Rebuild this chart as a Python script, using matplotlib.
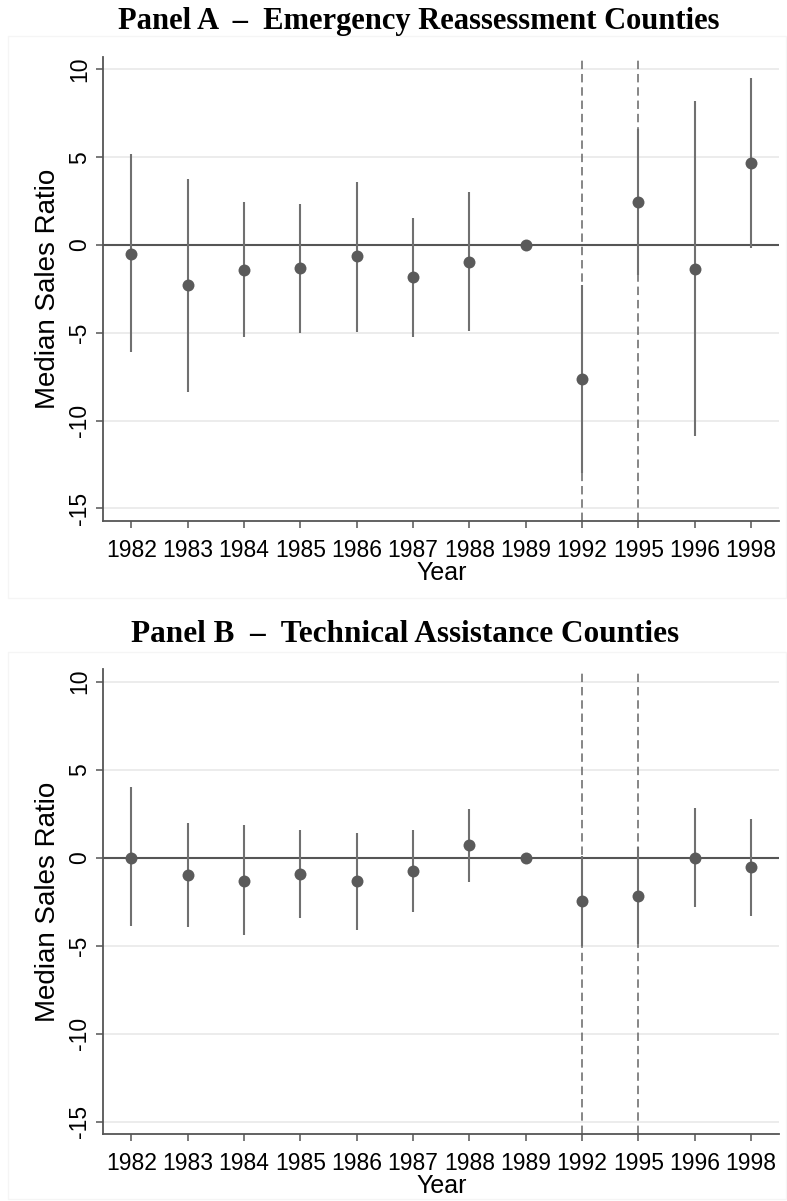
import matplotlib
matplotlib.use("Agg")
import matplotlib.pyplot as plt
from matplotlib.patches import Rectangle

years = ["1982", "1983", "1984", "1985", "1986", "1987", "1988", "1989",
         "1992", "1995", "1996", "1998"]
event_years = ["1992", "1995"]

a_coef = [-0.5, -2.3, -1.4, -1.3, -0.65, -1.8, -0.95, 0.0, -7.65, 2.45, -1.35, 4.65]
a_lo = [-6.1, -8.4, -5.25, -5.0, -4.95, -5.25, -4.9, 0.0, -13.0, -1.7, -10.9, -0.2]
a_hi = [5.2, 3.75, 2.45, 2.35, 3.6, 1.55, 3.0, 0.0, -2.3, 6.6, 8.2, 9.5]

b_coef = [0.0, -1.0, -1.3, -0.9, -1.35, -0.75, 0.7, 0.0, -2.45, -2.15, 0.0, -0.55]
b_lo = [-3.9, -3.95, -4.4, -3.4, -4.1, -3.1, -1.4, 0.0, -5.0, -4.9, -2.8, -3.3]
b_hi = [4.0, 1.95, 1.85, 1.6, 1.4, 1.6, 2.75, 0.0, 0.1, 0.6, 2.8, 2.2]

yticks = [-15, -10, -5, 0, 5, 10]
titles = ["Panel A  \u2013  Emergency Reassessment Counties",
          "Panel B  \u2013  Technical Assistance Counties"]
ylabel = "Median Sales Ratio"
xlabel = "Year"

plt.rcParams['font.family'] = ['Liberation Sans', 'DejaVu Sans']

W, H = 787, 1201
fig = plt.figure(figsize=(W / 100, H / 100), dpi=100)
fig.patch.set_facecolor("white")

# faint graph-region frames
for (y0, y1) in [(36, 598), (652, 1199)]:
    fig.patches.append(Rectangle((8 / W, 1 - y1 / H), (W - 9) / W, (y1 - y0) / H,
                                 transform=fig.transFigure, fill=False,
                                 edgecolor="#f5f5f5", lw=1.0))

axA = fig.add_axes([103.3 / W, 1 - 521 / H, (779.3 - 103.3) / W, (521 - 56.7) / H])
axB = fig.add_axes([103.3 / W, 1 - 1134.4 / H, (779.3 - 103.3) / W, (1134.4 - 669) / H])

gray = "#5a5a5a"
for ax, coef, lo, hi in [(axA, a_coef, a_lo, a_hi), (axB, b_coef, b_lo, b_hi)]:
    x = list(range(len(years)))
    ax.set_xlim(-0.5, 11.5)
    ax.set_ylim(-15.72, 10.72)
    for t in yticks:
        if t != 0:
            ax.axhline(t, color="#ebebeb", lw=1.3, zorder=0)
    ax.axhline(0, color="#555555", lw=1.5, zorder=1)
    for ey in event_years:
        ax.axvline(years.index(ey), color="#666666", lw=1.1,
                   linestyle=(0, (5.5, 3.2)), zorder=2)
    ax.vlines(x, lo, hi, color="#707070", lw=1.5, zorder=3)
    ax.plot(x, coef, 'o', color=gray, markersize=8.6, markeredgewidth=0, zorder=4)
    ax.set_xticks(x)
    ax.set_xticklabels(years, fontsize=16.5)
    ax.set_yticks(yticks)
    ax.set_yticklabels([str(t) for t in yticks], fontsize=16.5, rotation=90, va="center")
    for s in ["top", "right"]:
        ax.spines[s].set_visible(False)
    for s in ["left", "bottom"]:
        ax.spines[s].set_color("#555555")
        ax.spines[s].set_linewidth(1.3)
    ax.tick_params(axis="both", colors="#555555", length=5, width=1.1,
                   labelcolor="black")
    ax.tick_params(axis="x", pad=8)
    ax.tick_params(axis="y", pad=4)
    ax.set_ylabel(ylabel, fontsize=20, labelpad=5)
    ax.set_xlabel(xlabel, fontsize=18, labelpad=-1)
    ax.set_facecolor("white")

fig.text(419 / W, 1 - 22 / H, titles[0], ha="center", va="center",
         fontsize=22, fontweight="bold", family="Liberation Serif")
fig.text(405 / W, 1 - 634 / H, titles[1], ha="center", va="center",
         fontsize=22.5, fontweight="bold", family="Liberation Serif")

fig.savefig("out.png", dpi=100, facecolor="white")
